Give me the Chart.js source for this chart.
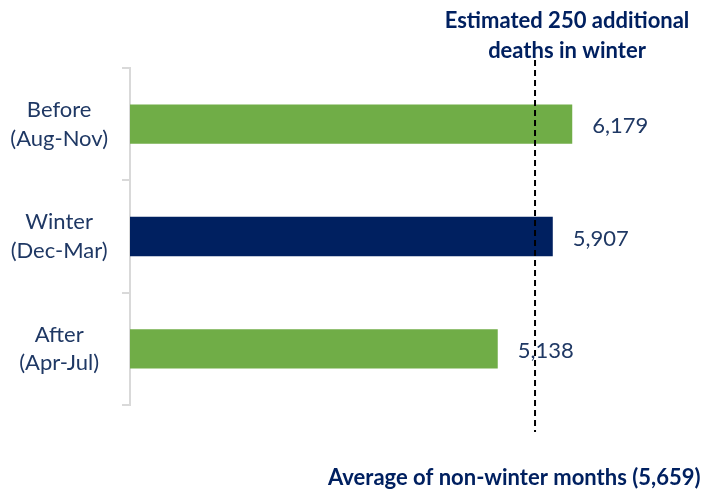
<!DOCTYPE html>
<html>
<head>
<meta charset="utf-8">
<script src="https://cdn.jsdelivr.net/npm/chart.js@4.4.1/dist/chart.umd.min.js"></script>
<style>
  html, body { margin: 0; padding: 0; background: #fff; }
  #wrap { width: 713px; height: 491px; position: relative; }
</style>
</head>
<body>
<div id="wrap"><canvas id="chart"></canvas></div>
<script>
const categories = [['Before', '(Aug-Nov)'], ['Winter', '(Dec-Mar)'], ['After', '(Apr-Jul)']];
const deaths = [6179, 5907, 5138];
const barColors = ['#70AD47', '#002060', '#70AD47'];
const nonWinterAvg = 5659;
const topNote = ['Estimated 250 additional', 'deaths in winter'];
const bottomNote = 'Average of non-winter months (5,659)';

const FONT = 'Lato, "Noto Sans", sans-serif';
const NAVY_TEXT = '#1F3864';

const fmt = v => v.toLocaleString('en-US');

// value labels, dashed average line and the two notes
const overlay = {
  id: 'overlay',
  afterDatasetsDraw(chart) {
    const ctx = chart.ctx;
    const meta = chart.getDatasetMeta(0);
    ctx.save();
    ctx.font = '22px ' + FONT;
    ctx.fillStyle = NAVY_TEXT;
    ctx.textAlign = 'left';
    ctx.textBaseline = 'middle';
    meta.data.forEach((bar, i) => {
      ctx.fillText(fmt(deaths[i]), bar.x + 20, bar.y + 2);
    });

    const x = chart.scales.x.getPixelForValue(nonWinterAvg);
    ctx.strokeStyle = '#000';
    ctx.lineWidth = 2;
    ctx.setLineDash([6, 4]);
    ctx.beginPath();
    ctx.moveTo(x, 60);
    ctx.lineTo(x, 432);
    ctx.stroke();
    ctx.setLineDash([]);

    ctx.font = 'bold 22px ' + FONT;
    ctx.fillStyle = '#002060';
    ctx.textAlign = 'center';
    ctx.textBaseline = 'middle';
    ctx.fillText(topNote[0], 567, 21);
    ctx.fillText(topNote[1], 567, 51);
    ctx.textAlign = 'left';
    ctx.fillText(bottomNote, 328, 478);
    ctx.restore();
  }
};

new Chart(document.getElementById('chart'), {
  type: 'bar',
  data: {
    labels: categories,
    datasets: [{
      data: deaths,
      backgroundColor: barColors,
      borderWidth: 0,
      barPercentage: 0.7,
      categoryPercentage: 0.5,
    }],
  },
  options: {
    indexAxis: 'y',
    responsive: true,
    maintainAspectRatio: false,
    animation: false,
    layout: { padding: { top: 68, bottom: 86, left: 0, right: 14 } },
    plugins: {
      legend: { display: false },
      tooltip: { enabled: false },
    },
    scales: {
      x: {
        display: false,
        min: 0,
        max: 7950,
      },
      y: {
        afterFit: s => { s.width = 130; },
        border: { display: true, color: '#D9D9D9', width: 2 },
        grid: { drawOnChartArea: false, drawTicks: true, tickLength: 8, color: '#D9D9D9', lineWidth: 2 },
        ticks: {
          crossAlign: 'center',
          color: NAVY_TEXT,
          font: { family: FONT, size: 22, lineHeight: 1.3 },
          padding: 14,
        },
      },
    },
  },
  plugins: [overlay],
});
</script>
</body>
</html>
